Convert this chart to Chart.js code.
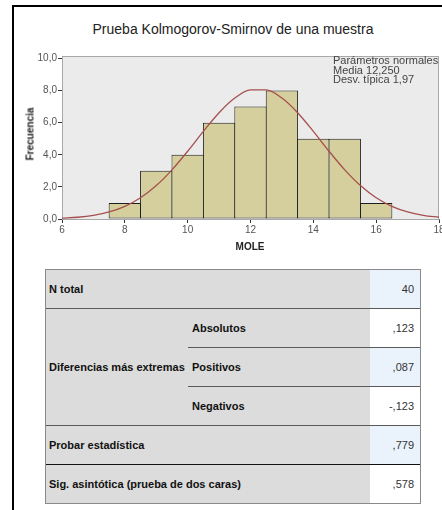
<!DOCTYPE html>
<html lang="es">
<head>
    <meta charset="UTF-8">
    <title>Prueba Kolmogorov-Smirnov de una muestra</title>
    <script src="https://cdn.jsdelivr.net/npm/chart.js"></script>
    <style>
        html, body { margin: 0; padding: 0; background: #fff; }
        body { width: 442px; height: 510px; overflow: hidden; position: relative; font-family: "Liberation Sans", Arial, sans-serif; }
        .frame { position: absolute; left: 12px; top: 5px; width: 480px; height: 560px; border-left: 2px solid #000; border-top: 2px solid #000; }
        .title { position: absolute; left: 0; width: 466px; top: 21px; text-align: center; font-size: 14px; color: #222; }
        #chartBox { position: absolute; left: 0; top: 0; width: 450px; height: 250px; }
        .note { position: absolute; left: 333px; top: 56px; font-size: 11px; line-height: 9.5px; color: #444; white-space: nowrap; }
        .ytitle { position: absolute; left: 30px; top: 134px; transform: translate(-50%, -50%) rotate(-90deg); font-size: 10px; font-weight: bold; color: #222; white-space: nowrap; }
        .xtitle { position: absolute; left: 250px; top: 246px; transform: translate(-50%, -50%); font-size: 10px; font-weight: bold; color: #222; }

        table.ks { position: absolute; left: 46px; top: 270px; border-collapse: collapse; table-layout: fixed; width: 374px; font-size: 11px; }
        table.ks td { height: 38px; padding: 0; border: 0; background: #dcdcdc; color: #111; font-weight: bold; white-space: nowrap; }
        table.ks tr + tr td { border-top: 1px solid #5a5a5a; }
        table.ks td.lab { padding-left: 3px; }
        table.ks td.sub { padding-left: 4px; }
        table.ks td.val { text-align: right; padding-right: 6px; font-weight: normal; color: #333; background: #fff; }
        table.ks td.val.blue { background: #eaf2fb; }
        table.ks tr.last td { border-top: 1px solid #111; }
        table.ks { outline: 1px solid #8a8a8a; }
    </style>
</head>
<body>
    <div class="frame"></div>
    <div class="title">Prueba Kolmogorov-Smirnov de una muestra</div>

    <div id="chartBox"><canvas id="histChart" width="450" height="250"></canvas></div>
    <div class="note">Parámetros normales<br>Media 12,250<br>Desv. típica 1,97</div>
    <div class="ytitle">Frecuencia</div>
    <div class="xtitle">MOLE</div>

    <table class="ks">
        <colgroup><col style="width:142px"><col style="width:182px"><col style="width:50px"></colgroup>
        <tr><td class="lab" colspan="2">N total</td><td class="val blue">40</td></tr>
        <tr><td class="lab" rowspan="3">Diferencias más extremas</td><td class="sub">Absolutos</td><td class="val">,123</td></tr>
        <tr><td class="sub">Positivos</td><td class="val blue">,087</td></tr>
        <tr><td class="sub">Negativos</td><td class="val">-,123</td></tr>
        <tr><td class="lab" colspan="2">Probar estadística</td><td class="val blue">,779</td></tr>
        <tr class="last"><td class="lab" colspan="2">Sig. asintótica (prueba de dos caras)</td><td class="val">,578</td></tr>
    </table>

    <script>
        // histogram bins (centre of each 1-unit bin) and counts
        const binCenters = [8, 9, 10, 11, 12, 13, 14, 15, 16];
        const frequencies = [1, 3, 4, 6, 7, 8, 5, 5, 1];

        // fitted normal curve (media 12,250, desv. 1,97)
        const curveX = [6, 6.5, 7, 7.5, 8, 8.5, 9, 9.5, 10, 10.5, 11, 11.5, 12, 12.5, 13, 13.5, 14, 14.5, 15, 15.5, 16, 16.5, 17, 17.5, 18];
        const curveY = [0.05, 0.11, 0.23, 0.44, 0.79, 1.32, 2.08, 3.06, 4.22, 5.46, 6.62, 7.53, 8.04, 8.04, 7.53, 6.62, 5.46, 4.22, 3.06, 2.08, 1.32, 0.79, 0.44, 0.23, 0.11];

        const xTicks = [6, 8, 10, 12, 14, 16, 18];
        const yTicks = [0, 2, 4, 6, 8, 10];

        const plotBackground = {
            id: 'plotBackground',
            beforeDatasetsDraw(chart) {
                const { ctx, chartArea: a } = chart;
                ctx.save();
                ctx.fillStyle = '#ebebeb';
                ctx.fillRect(a.left, a.top, a.right - a.left, a.bottom - a.top);
                ctx.strokeStyle = '#a8a8a8';
                ctx.lineWidth = 1;
                ctx.strokeRect(a.left + 0.5, a.top + 0.5, a.right - a.left - 1, a.bottom - a.top);
                ctx.restore();
            }
        };

        const tickFont = { family: '"Liberation Sans", Arial, sans-serif', size: 10 };

        new Chart(document.getElementById('histChart'), {
            data: {
                datasets: [
                    {
                        type: 'line',
                        data: curveX.map((x, i) => ({ x: x, y: curveY[i] })),
                        borderColor: '#a5504e',
                        borderWidth: 1.3,
                        pointRadius: 0,
                        fill: false,
                        cubicInterpolationMode: 'monotone',
                        order: 0
                    },
                    {
                        type: 'bar',
                        data: binCenters.map((x, i) => ({ x: x, y: frequencies[i] })),
                        backgroundColor: '#d4cf9c',
                        borderColor: '#1e1e1e',
                        borderWidth: 1,
                        borderSkipped: false,
                        barPercentage: 1.03,
                        categoryPercentage: 1,
                        order: 1
                    }
                ]
            },
            options: {
                responsive: false,
                animation: false,
                events: [],
                layout: { padding: { left: 0, right: 11, top: 56, bottom: 0 } },
                plugins: { legend: { display: false }, tooltip: { enabled: false }, title: { display: false } },
                scales: {
                    x: {
                        type: 'linear',
                        min: 6,
                        max: 18,
                        offset: false,
                        afterBuildTicks: s => { s.ticks = xTicks.map(v => ({ value: v })); },
                        afterFit: s => { s.height = 31; },
                        grid: { offset: false, drawOnChartArea: false, drawTicks: true, tickLength: 4, color: '#333' },
                        border: { color: '#777' },
                        ticks: { color: '#555', font: tickFont, padding: 1, maxRotation: 0 }
                    },
                    y: {
                        type: 'linear',
                        min: 0,
                        max: 10.15,
                        afterBuildTicks: s => { s.ticks = yTicks.map(v => ({ value: v })); },
                        afterFit: s => { s.width = 62; },
                        grid: { drawOnChartArea: false, drawTicks: true, tickLength: 4, color: '#333' },
                        border: { color: '#777' },
                        ticks: { color: '#555', font: tickFont, padding: 1, callback: v => v.toFixed(1).replace('.', ',') }
                    }
                }
            },
            plugins: [plotBackground]
        });
    </script>
</body>
</html>
